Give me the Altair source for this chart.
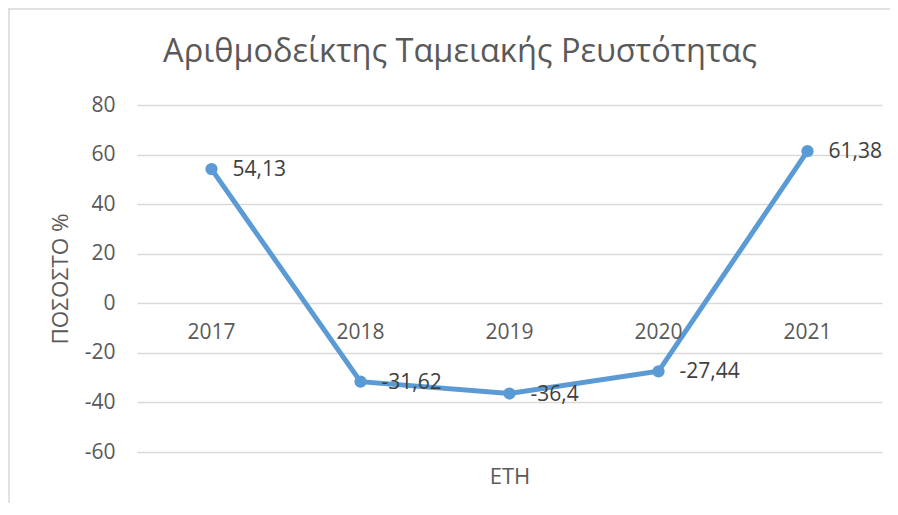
import altair as alt
import pandas as pd

years = ["2017", "2018", "2019", "2020", "2021"]
values = [54.13, -31.62, -36.4, -27.44, 61.38]
labels = ["54,13", "-31,62", "-36,4", "-27,44", "61,38"]
y_ticks = [-60, -40, -20, 0, 20, 40, 60, 80]
title_text = "Αριθμοδείκτης Ταμειακής Ρευστότητας"
y_title = "ΠΟΣΟΣΤΟ %"
x_title = "ΕΤΗ"

df = pd.DataFrame({"year": years, "value": values, "label": labels})

W, H = 745, 347
PL, PT = 129, 97
FONT = "Open Sans"
GRAY = "#595959"
BLUE = "#5B9BD5"

xscale = alt.Scale(type="point", padding=0.5, domain=years)
yscale = alt.Scale(domain=[-60, 80], nice=False)

base = alt.Chart(df)

x_enc = alt.X("year:N", scale=xscale,
              axis=alt.Axis(labels=False, ticks=False, domain=False, grid=False,
                            title=x_title, titleFont=FONT, titleFontSize=22,
                            titleFontWeight="normal", titleColor=GRAY,
                            titleY=24, titleBaseline="middle"))
y_enc = alt.Y("value:Q", scale=yscale,
              axis=alt.Axis(values=y_ticks, ticks=False, domain=False, grid=True,
                            gridColor="#d9d9d9", gridWidth=1.5,
                            labelFont=FONT, labelFontSize=21, labelColor=GRAY,
                            labelPadding=22, labelExpr="'' + datum.value",
                            title=y_title, titleFont=FONT, titleFontSize=22.5,
                            titleFontWeight="normal", titleColor=GRAY,
                            titleX=-77, titleY=H / 2, titleAngle=-90,
                            titleAlign="center", titleBaseline="middle"))

line = base.mark_line(color=BLUE, strokeWidth=5).encode(x=x_enc, y=y_enc)
pts = base.mark_circle(color=BLUE, size=150, opacity=1).encode(x="year:N", y="value:Q")
dlabels = base.mark_text(align="left", baseline="middle", dx=21, dy=1,
                         font=FONT, fontSize=21, color="#404040").encode(
    x="year:N", y="value:Q", text="label:N")
xlabels = base.mark_text(align="center", baseline="middle", dy=30,
                         font=FONT, fontSize=21, color=GRAY).encode(
    x="year:N", y=alt.datum(0), text="year:N")

tdf = pd.DataFrame({"t": [title_text]})
title = alt.Chart(tdf).mark_text(align="center", baseline="middle", font=FONT,
                                 fontSize=32.5, color=GRAY).encode(
    x=alt.value(323), y=alt.value(-53), text="t:N")

frame_top = alt.Chart(tdf).mark_rule(color="#d9d9d9", strokeWidth=1.5).encode(
    x=alt.value(-PL), x2=alt.value(W + 8), y=alt.value(-PT + 1))
frame_left = alt.Chart(tdf).mark_rule(color="#d9d9d9", strokeWidth=1.5).encode(
    x=alt.value(-PL + 1), y=alt.value(-PT), y2=alt.value(H + 51))

chart = alt.layer(line, pts, dlabels, xlabels, title, frame_top, frame_left).properties(
    width=W, height=H,
    autosize=alt.AutoSizeParams(type="none"),
    padding={"left": PL, "top": PT, "right": 8, "bottom": 51},
).configure_view(stroke=None)

chart.save("out.html", embed_options={"renderer": "svg", "actions": False})
